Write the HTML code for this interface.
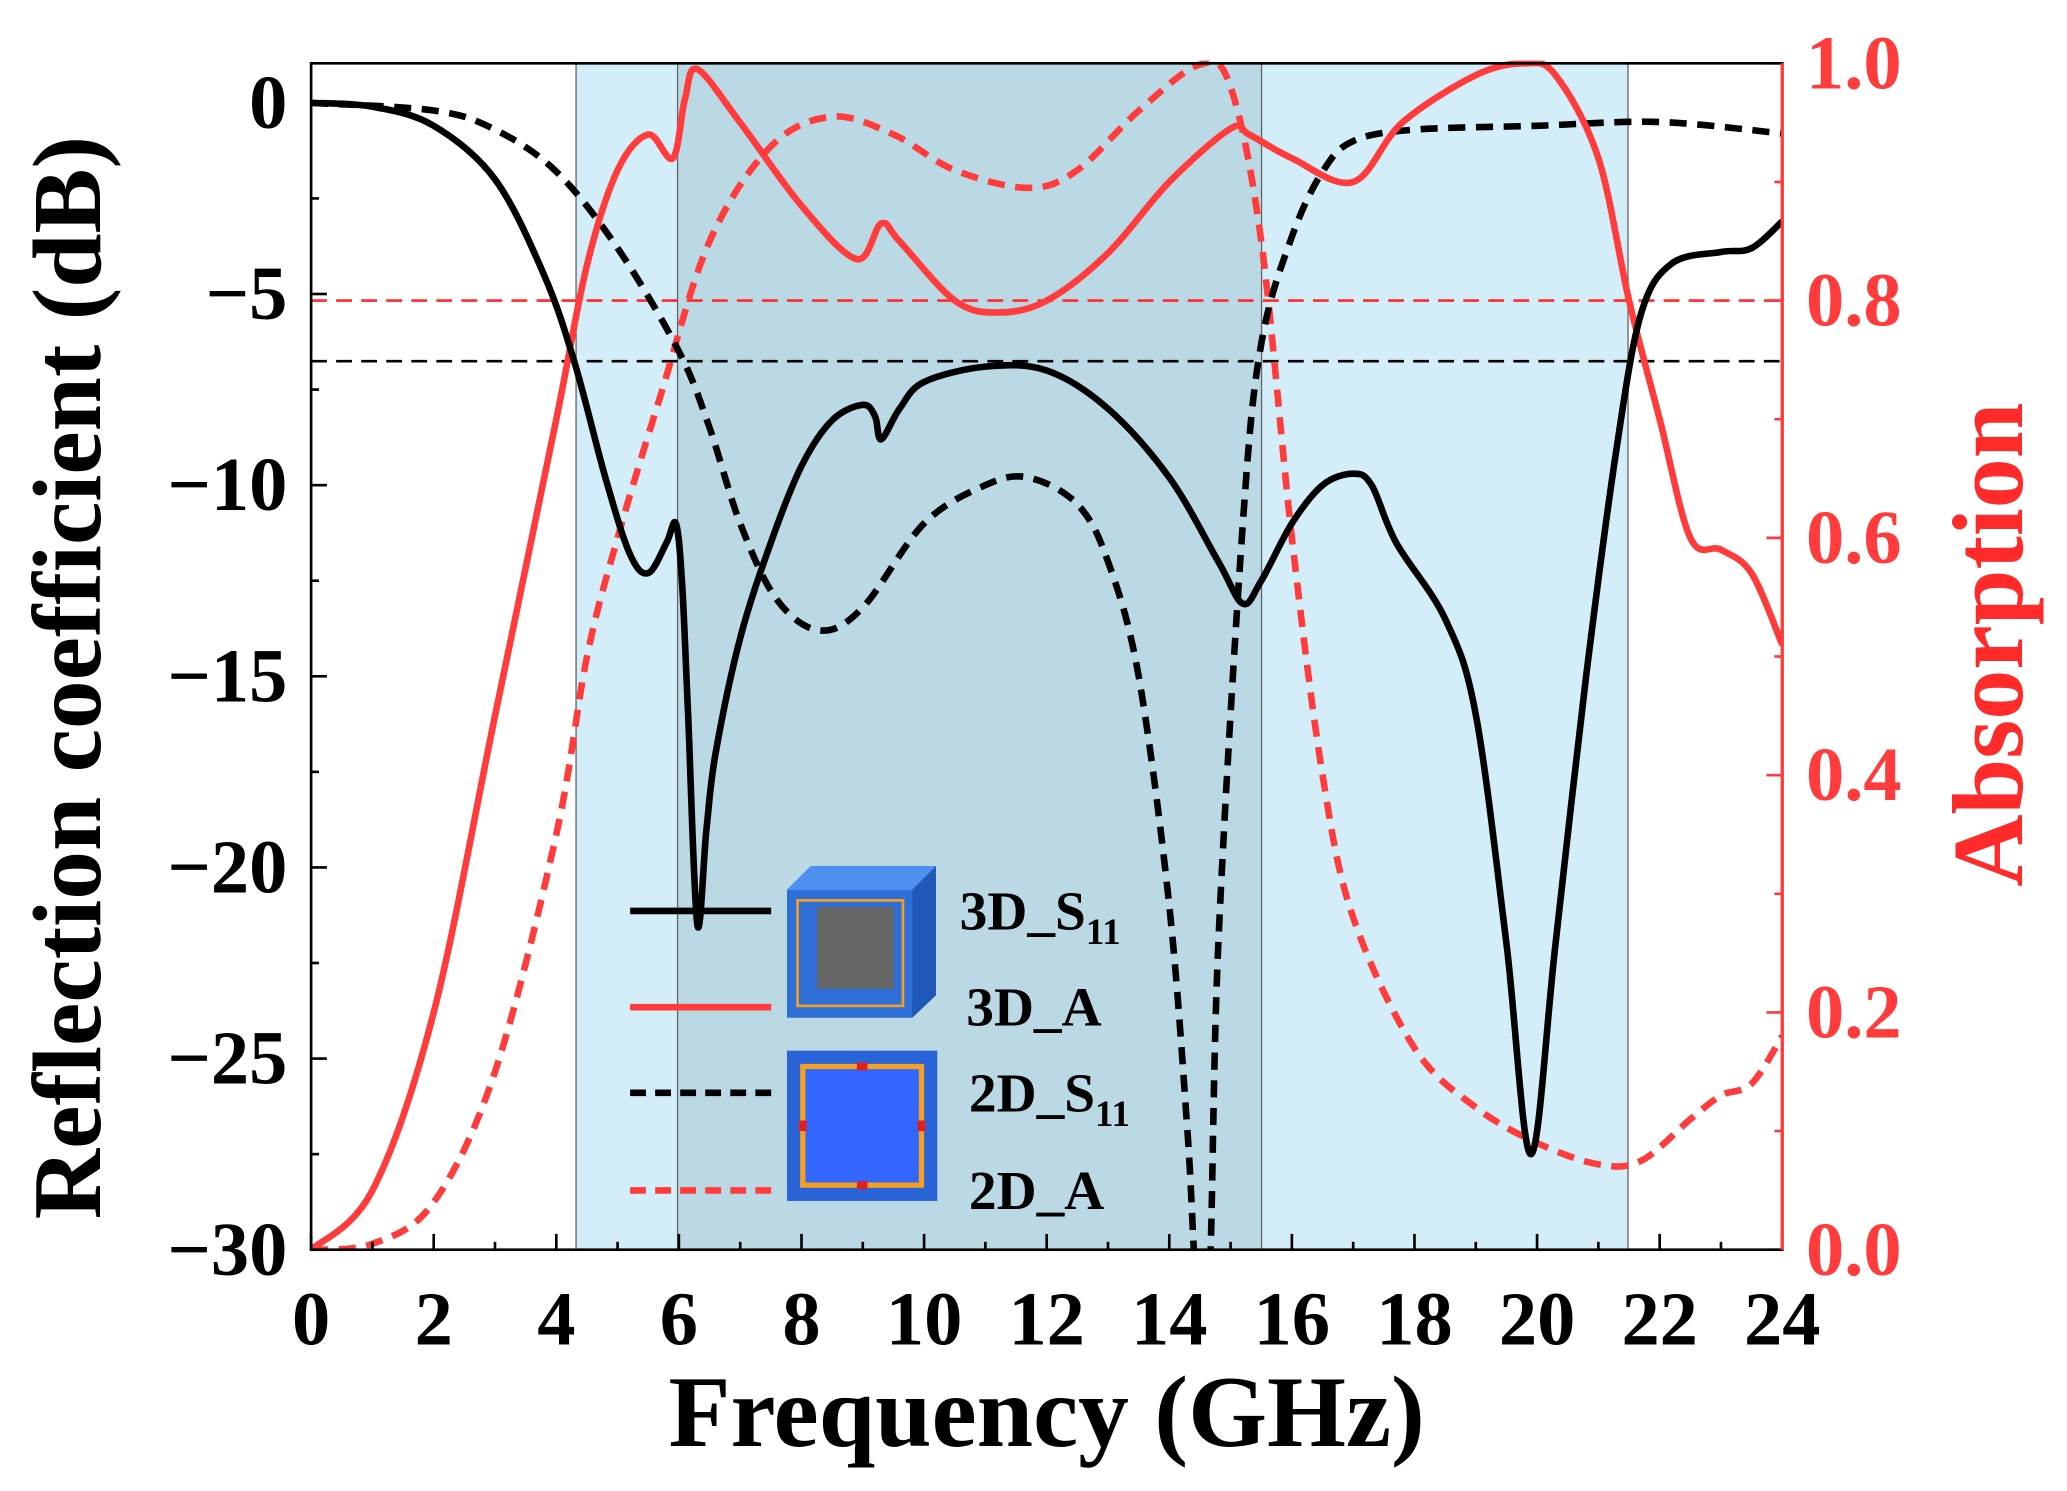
<!DOCTYPE html>
<html><head><meta charset="utf-8">
<style>
html,body{margin:0;padding:0;background:#fff;}
svg{display:block;}
text{font-family:"Liberation Serif",serif;font-weight:bold;}
</style></head>
<body>
<svg id="s" width="2067" height="1491" viewBox="0 0 1568 1131" xmlns="http://www.w3.org/2000/svg">
<defs><clipPath id="cp"><rect x="236" y="46" width="1116" height="902"/></clipPath></defs>
<rect x="0" y="0" width="1568" height="1131" fill="#fff"/>
<rect x="437" y="48" width="798" height="900" fill="#d4eef9"/>
<rect x="514" y="48" width="443" height="900" fill="#bad9e5"/>
<line x1="437" y1="48" x2="437" y2="948" stroke="#666" stroke-width="1"/>
<line x1="514" y1="48" x2="514" y2="948" stroke="#666" stroke-width="1"/>
<line x1="957" y1="48" x2="957" y2="948" stroke="#666" stroke-width="1"/>
<line x1="1235" y1="48" x2="1235" y2="948" stroke="#666" stroke-width="1"/>
<line x1="236" y1="228" x2="1352" y2="228" stroke="#ff2a2a" stroke-width="2" stroke-dasharray="12 7"/>
<line x1="236" y1="274" x2="1352" y2="274" stroke="#000" stroke-width="2" stroke-dasharray="12 7"/>
<g id="curves" clip-path="url(#cp)"></g>
<g id="ticks"></g>
<rect x="236" y="48" width="1116" height="900" fill="none" stroke="#000" stroke-width="2"/>
<line x1="1352" y1="48" x2="1352" y2="948" stroke="#ff3b3b" stroke-width="2.5"/>
<!-- legend -->
<line x1="478" y1="691" x2="585" y2="691" stroke="#000" stroke-width="5"/>
<line x1="478" y1="764" x2="585" y2="764" stroke="#ff3b3b" stroke-width="5"/>
<line x1="478" y1="829" x2="585" y2="829" stroke="#000" stroke-width="5" stroke-dasharray="12 7"/>
<line x1="478" y1="903" x2="585" y2="903" stroke="#ff3b3b" stroke-width="5" stroke-dasharray="12 7"/>
<g>
<polygon points="597,675 615,657 710,657 710,755 692,772 597,772" fill="#2f6fd8"/>
<polygon points="597,675 615,657 710,657 692,675" fill="#4f8fef"/>
<polygon points="692,675 710,657 710,755 692,772" fill="#1f58b8"/>
<rect x="605" y="683" width="80" height="80" fill="none" stroke="#f5a020" stroke-width="2"/>
<rect x="620" y="688" width="58" height="62" fill="#666"/>
</g>
<rect x="597" y="797" width="114" height="114" fill="#2a62d8"/>
<rect x="609" y="809" width="90" height="90" fill="#3366ff" stroke="#f5a020" stroke-width="4"/>
<rect x="650" y="806" width="8" height="6" fill="#e02020"/>
<rect x="650" y="896" width="8" height="6" fill="#e02020"/>
<rect x="606" y="850" width="6" height="8" fill="#e02020"/>
<rect x="696" y="850" width="6" height="8" fill="#e02020"/>
<text x="728" y="705" font-size="42">3D_S<tspan font-size="28" dy="11">11</tspan></text>
<text x="733" y="778" font-size="42">3D_A</text>
<text x="735" y="843" font-size="42">2D_S<tspan font-size="28" dy="11">11</tspan></text>
<text x="735" y="917" font-size="42">2D_A</text>
<!-- axis titles -->
<text x="794" y="1097" font-size="77" text-anchor="middle">Frequency (GHz)</text>
<text transform="translate(76,514) rotate(-90)" font-size="74" text-anchor="middle">Reflection coefficient (dB)</text>
<text transform="translate(1534,489) rotate(-90)" font-size="76" text-anchor="middle" fill="#ff2a2a">Absorption</text>
</svg>
<script>
var NS="http://www.w3.org/2000/svg";
function X(f){return 236+f*46.5;}
function Yd(d){return 78-d*29;}
function Ya(a){return 948-a*900;}
function path(pts){
 var d="M"+pts[0][0].toFixed(1)+","+pts[0][1].toFixed(1);
 for(var i=0;i<pts.length-1;i++){
  var p0=pts[Math.max(0,i-1)],p1=pts[i],p2=pts[i+1],p3=pts[Math.min(pts.length-1,i+2)];
  var c1=[p1[0]+(p2[0]-p0[0])/6,p1[1]+(p2[1]-p0[1])/6];
  var c2=[p2[0]-(p3[0]-p1[0])/6,p2[1]-(p3[1]-p1[1])/6];
  d+="C"+c1[0].toFixed(1)+","+c1[1].toFixed(1)+" "+c2[0].toFixed(1)+","+c2[1].toFixed(1)+" "+p2[0].toFixed(1)+","+p2[1].toFixed(1);
 }
 return d;
}
function add(data,yf,color,dash){
 var pts=data.map(function(p){return [X(p[0]),yf(p[1])];});
 var e=document.createElementNS(NS,"path");
 e.setAttribute("d",path(pts));e.setAttribute("fill","none");e.setAttribute("stroke",color);
 e.setAttribute("stroke-width","5");e.setAttribute("stroke-linejoin","round");
 if(dash)e.setAttribute("stroke-dasharray","13 8");
 document.getElementById("curves").appendChild(e);
}
var s3=[[0,0],[1,-0.1],[2,-0.6],[3,-2],[3.8,-4.5],[4.3,-6.8],[4.8,-9.8],[5.2,-11.8],[5.5,-12.3],[5.8,-11.5],[5.95,-11],[6.05,-12.5],[6.15,-16],[6.3,-21.5],[6.45,-19],[6.6,-17],[7,-14],[7.5,-11.5],[8,-9.5],[8.5,-8.3],[9,-7.9],[9.2,-8.2],[9.3,-8.8],[9.6,-8],[10,-7.3],[11,-6.9],[12,-7],[13,-8],[14,-9.8],[14.8,-12],[15.2,-13.1],[15.5,-12.5],[16,-11],[16.5,-10],[17,-9.7],[17.3,-10],[17.7,-11.5],[18.5,-13.5],[19,-16],[19.5,-22],[19.9,-27.5],[20.3,-22],[20.8,-15],[21.3,-9],[21.7,-5.5],[22.2,-4.2],[23,-3.9],[23.5,-3.8],[24,-3.1]];
var s2=[[0,0],[2,-0.2],[3,-0.7],[4,-1.8],[5,-3.8],[6,-6.5],[6.5,-8.5],[7,-11],[7.6,-13],[8.3,-13.8],[9,-13.2],[10,-11],[11,-10],[11.7,-9.8],[12.5,-10.5],[13,-12],[13.5,-15],[14,-21],[14.3,-27],[14.45,-31],[14.65,-31],[14.8,-22],[15.2,-11],[15.5,-6.3],[16,-3.5],[16.5,-1.8],[17,-1],[18,-0.7],[20,-0.6],[22,-0.5],[24,-0.8]];
var a3=[[0,0],[1,0.05],[2,0.2],[3,0.45],[4,0.7],[4.5,0.83],[5,0.91],[5.5,0.94],[5.9,0.92],[6.1,0.97],[6.3,0.995],[7,0.95],[8,0.88],[8.9,0.835],[9.3,0.865],[9.6,0.85],[10.5,0.8],[11.2,0.79],[12,0.8],[13,0.84],[14,0.9],[15,0.945],[15.3,0.94],[16,0.92],[17,0.9],[17.8,0.95],[19,0.99],[19.8,1.0],[20.3,0.99],[21,0.92],[21.5,0.8],[22,0.7],[22.5,0.6],[23,0.59],[23.5,0.57],[24,0.51]];
var a2=[[0,0],[1,0.005],[2,0.04],[3,0.15],[4,0.35],[4.5,0.5],[5,0.6],[5.7,0.72],[6.5,0.85],[7.5,0.93],[8.5,0.955],[9.5,0.94],[10.5,0.91],[11.7,0.895],[12.5,0.91],[13.5,0.96],[14.5,0.999],[15,0.98],[15.5,0.85],[16,0.6],[16.5,0.4],[17,0.28],[18,0.17],[19,0.12],[20,0.09],[21,0.072],[21.7,0.075],[22.5,0.11],[23,0.13],[23.5,0.14],[24,0.18]];
add(a2,Ya,"#ff3b3b",true);
add(s2,Yd,"#000",true);
add(a3,Ya,"#ff3b3b",false);
add(s3,Yd,"#000",false);
var g=document.getElementById("ticks");
function ln(x1,y1,x2,y2,c){var e=document.createElementNS(NS,"line");e.setAttribute("x1",x1);e.setAttribute("y1",y1);e.setAttribute("x2",x2);e.setAttribute("y2",y2);e.setAttribute("stroke",c);e.setAttribute("stroke-width","2");g.appendChild(e);}
function tx(x,y,s,c,anc){var e=document.createElementNS(NS,"text");e.setAttribute("x",x);e.setAttribute("y",y);e.setAttribute("font-size","58");e.setAttribute("fill",c);e.setAttribute("text-anchor",anc);e.textContent=s;g.appendChild(e);}
for(var f=0;f<=24;f++){var x=X(f);ln(x,948,x,948-(f%2?6:12),"#000");if(f%2==0)tx(x,1020,String(f),"#000","middle");}
for(var d=0;d>=-30;d-=2.5){var y=Yd(d);var maj=(d%5==0);ln(236,y,236+(maj?12:6),y,"#000");if(maj)tx(218,y+19,d==0?"0":"\u2212"+(-d),"#000","end");}
for(var i=0;i<=10;i++){var y=Ya(i/10);var maj=(i%2==0);ln(1352,y,1352-(maj?12:6),y,"#ff3b3b");if(maj)tx(1370,y+19,(i/10).toFixed(1),"#ff3b3b","start");}
</script>
</body></html>
